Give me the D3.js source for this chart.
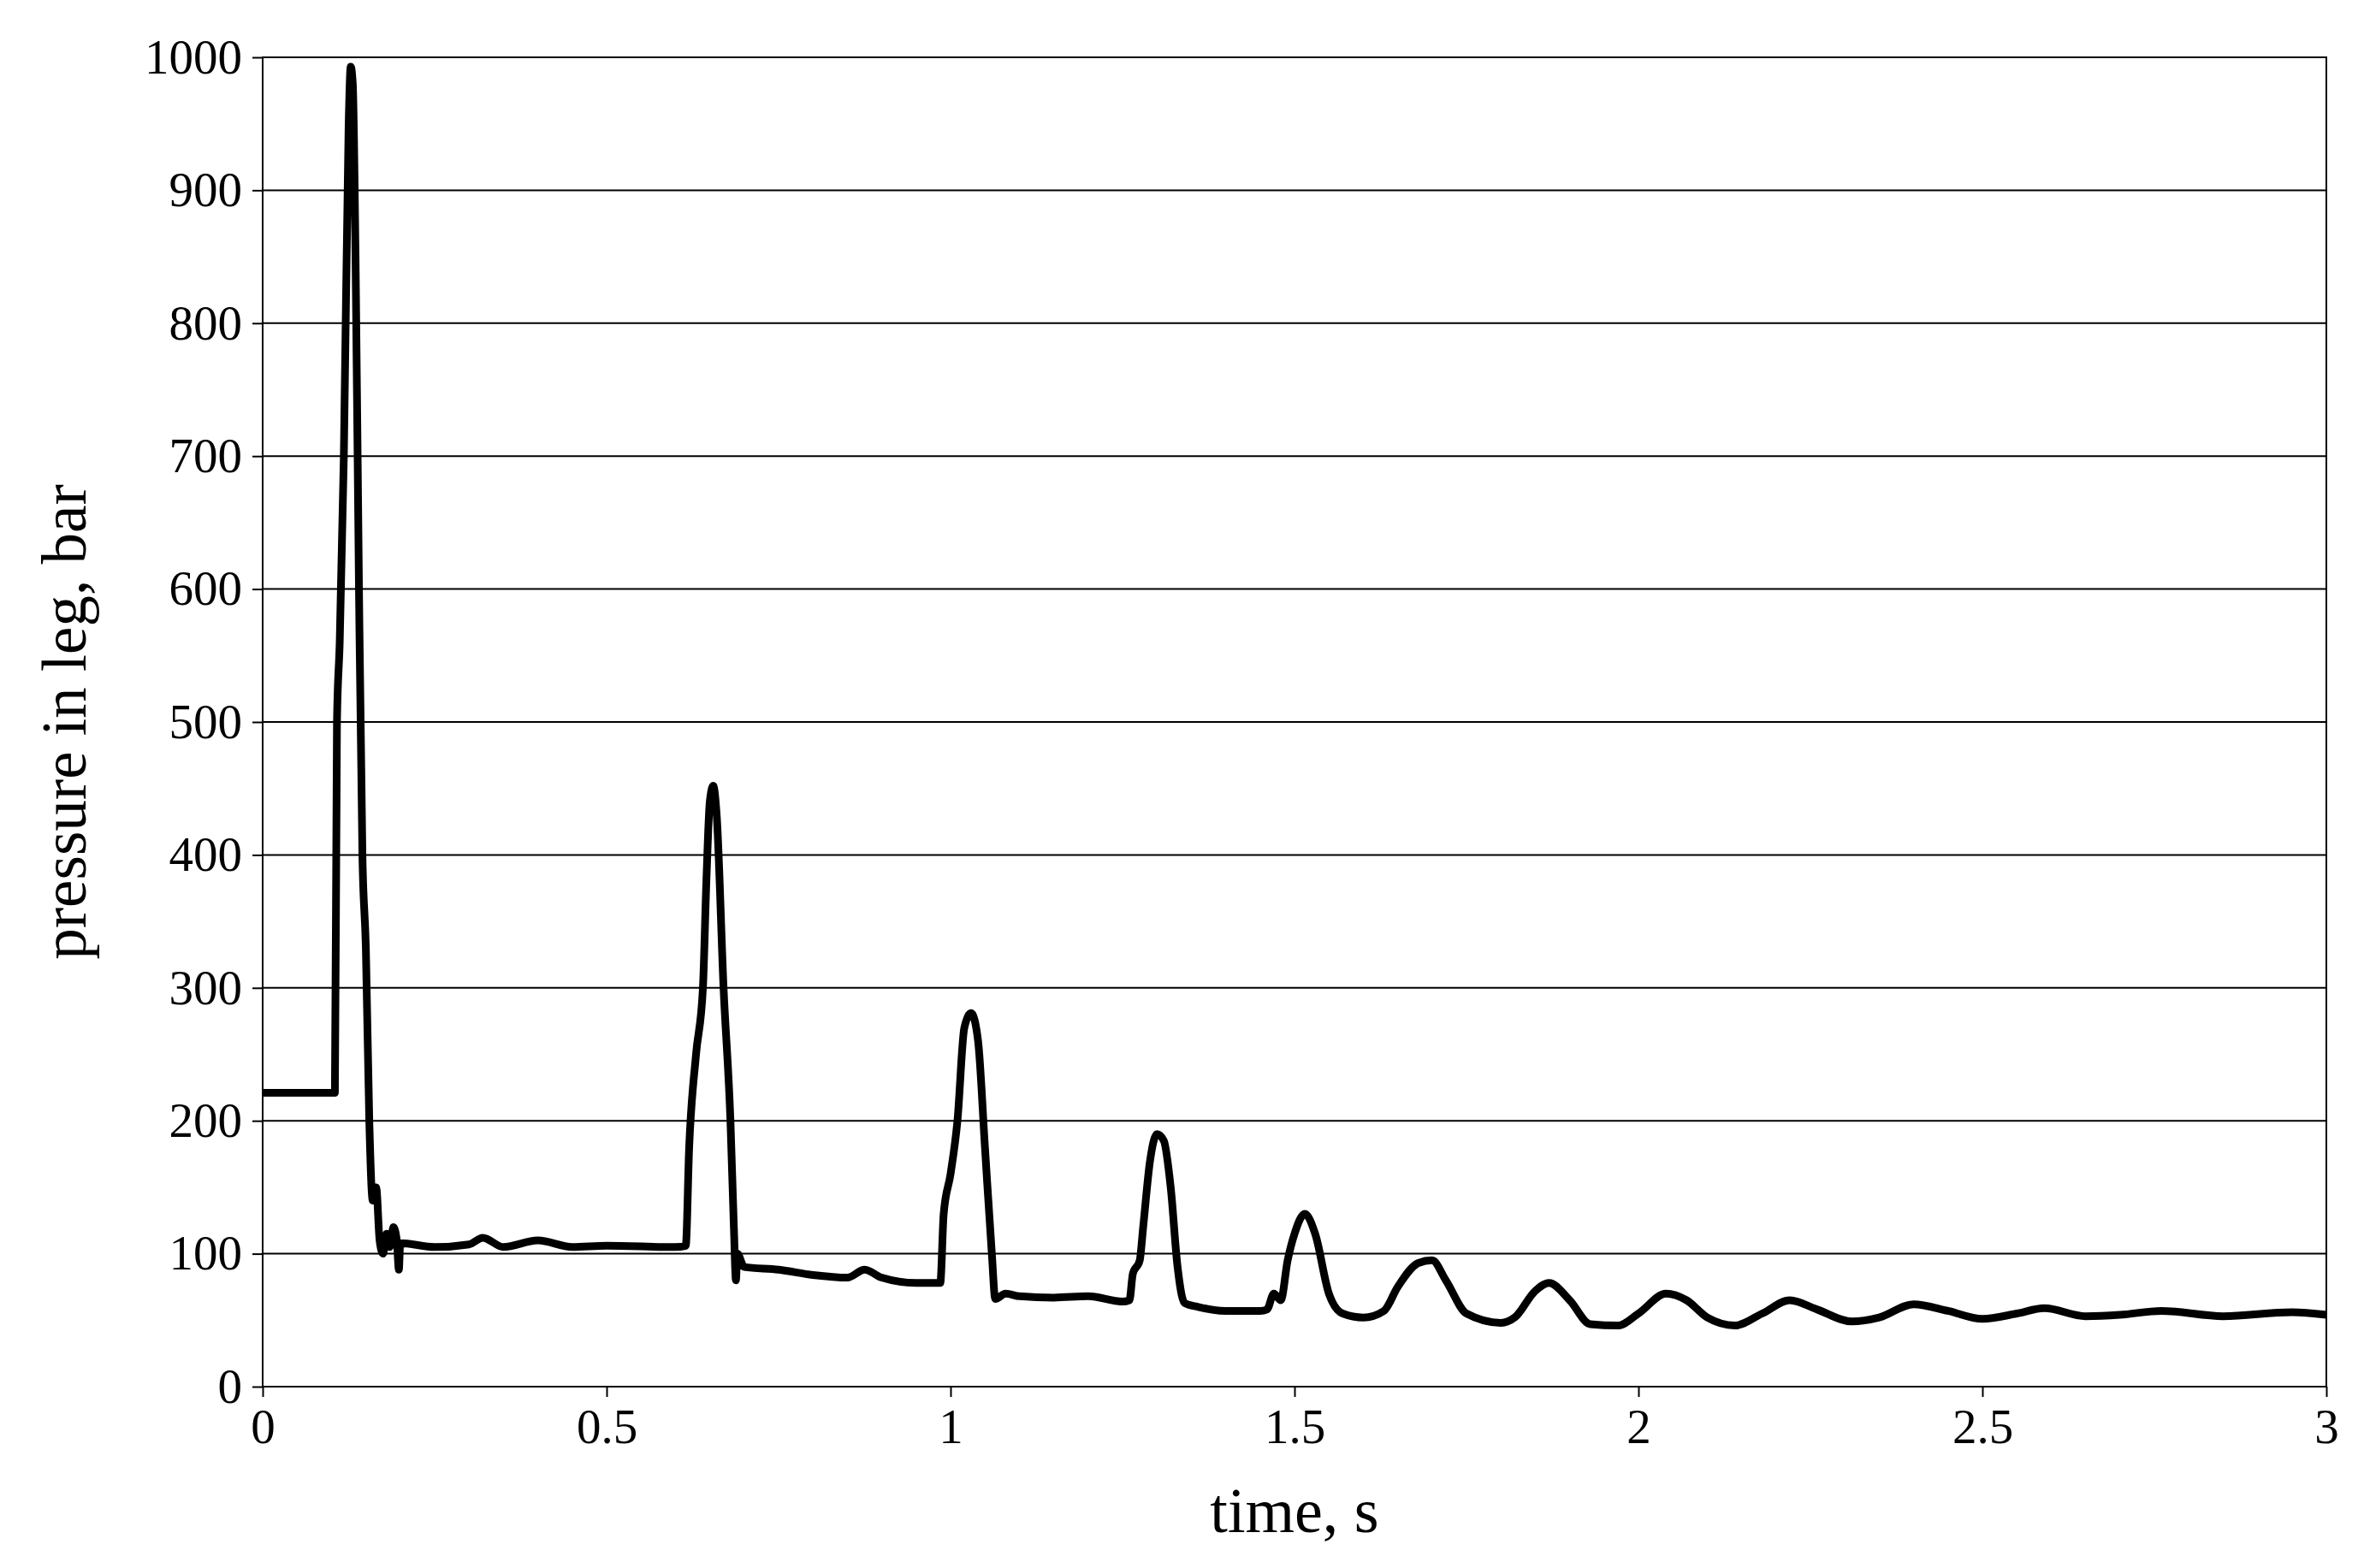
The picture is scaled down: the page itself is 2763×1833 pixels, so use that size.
<!DOCTYPE html>
<html><head><meta charset="utf-8">
<script src="https://cdn.jsdelivr.net/npm/d3@7"></script>
<style>body{margin:0;background:#fff}svg{display:block}</style>
</head><body>
<script>
const times = [0,0.105,0.108,0.112,0.118,0.125,0.128,0.131,0.135,0.14,0.145,0.15,0.155,0.16,0.165,0.17,0.175,0.18,0.185,0.19,0.195,0.198,0.2,0.25,0.3,0.32,0.35,0.4,0.45,0.5,0.6,0.615,0.62,0.63,0.64,0.645,0.65,0.655,0.66,0.67,0.68,0.685,0.688,0.69,0.7,0.75,0.8,0.85,0.875,0.9,0.95,0.985,0.99,1.0,1.01,1.02,1.03,1.04,1.05,1.06,1.065,1.08,1.1,1.15,1.2,1.25,1.26,1.265,1.275,1.28,1.29,1.3,1.31,1.32,1.33,1.34,1.36,1.4,1.45,1.46,1.47,1.48,1.49,1.5,1.515,1.53,1.55,1.57,1.6,1.63,1.65,1.68,1.7,1.72,1.75,1.8,1.82,1.85,1.87,1.9,1.93,1.97,2.0,2.04,2.07,2.1,2.14,2.18,2.22,2.26,2.31,2.35,2.4,2.45,2.5,2.55,2.59,2.65,2.7,2.76,2.85,2.95,3.0];
const pressure = [221,221,500,560,700,950,993,980,850,600,400,330,200,140,150,110,100,115,105,120,110,88,108,105,107,112,105,110,105,106,105,106,180,250,300,380,440,452,430,300,200,120,80,100,90,88,84,82,88,82,78,78,130,160,200,270,281,260,180,100,66,70,68,67,68,64,65,85,95,120,170,190,185,150,90,63,60,57,57,58,70,65,95,115,130,115,70,55,52,57,75,93,95,80,55,48,52,72,78,65,47,46,55,70,65,52,46,55,65,58,49,52,62,57,51,55,59,53,54,57,53,56,54];
const xTicks = [0,0.5,1,1.5,2,2.5,3];
const yTicks = [0,100,200,300,400,500,600,700,800,900,1000];

const W=2763,H=1833,m={l:307,r:44,t:67,b:212};
const svg=d3.select("body").append("svg").attr("width",W).attr("height",H);
const x=d3.scaleLinear().domain([0,3]).range([m.l,W-m.r]);
const y=d3.scaleLinear().domain([0,1000]).range([H-m.b,m.t]);
const font="Liberation Serif, Times New Roman, serif";
svg.append("g").selectAll("line").data(yTicks).join("line")
 .attr("x1",m.l).attr("x2",W-m.r).attr("y1",d=>y(d)).attr("y2",d=>y(d))
 .attr("stroke","#000").attr("stroke-width",2);
svg.append("rect").attr("x",m.l).attr("y",m.t).attr("width",W-m.r-m.l).attr("height",H-m.b-m.t)
 .attr("fill","none").attr("stroke","#000").attr("stroke-width",2);
const xa=svg.append("g").attr("transform",`translate(0,${H-m.b})`)
 .call(d3.axisBottom(x).tickValues(xTicks).tickFormat(d=>String(d)).tickSize(12).tickPadding(14));
const ya=svg.append("g").attr("transform",`translate(${m.l},0)`)
 .call(d3.axisLeft(y).tickValues(yTicks).tickFormat(d=>String(d)).tickSize(12).tickPadding(12));
[xa,ya].forEach(a=>{a.select(".domain").remove();a.selectAll("line").attr("stroke-width",2);
 a.selectAll("text").attr("font-family",font).attr("font-size",57).attr("fill","#000");});
svg.append("path").datum(times.map((t,i)=>[t,pressure[i]]))
 .attr("d",d3.line().x(d=>x(d[0])).y(d=>y(d[1])).curve(d3.curveMonotoneX))
 .attr("fill","none").attr("stroke","#000").attr("stroke-width",9).attr("stroke-linejoin","round");
svg.append("text").attr("x",(m.l+W-m.r)/2).attr("y",H-42).attr("text-anchor","middle")
 .attr("font-family",font).attr("font-size",74).text("time, s");
svg.append("text").attr("transform",`translate(100,${(m.t+H-m.b)/2}) rotate(-90)`).attr("text-anchor","middle")
 .attr("font-family",font).attr("font-size",73).text("pressure in leg, bar");
</script>
</body></html>
